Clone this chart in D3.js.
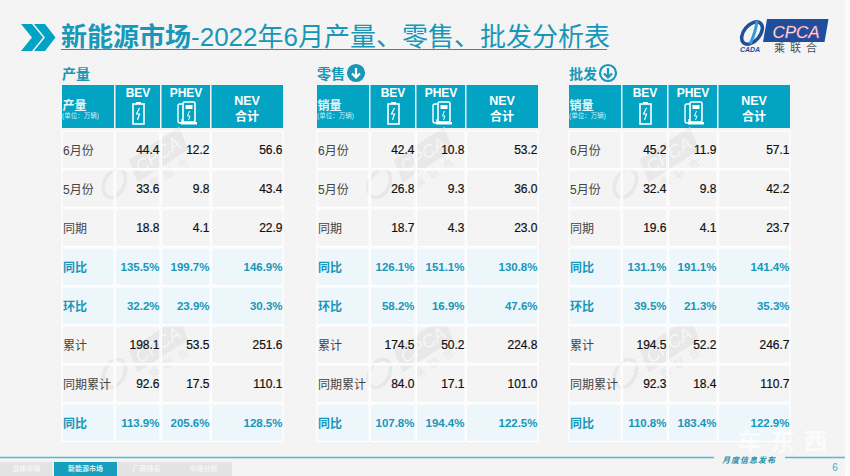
<!DOCTYPE html>
<html>
<head>
<meta charset="utf-8">
<script src="https://cdnjs.cloudflare.com/ajax/libs/d3/7.8.5/d3.min.js"></script>
<style>
  html, body { margin: 0; padding: 0; background: #f4f4f4; overflow: hidden; }
  svg { display: block; }
  text { font-family: "Liberation Sans", "Noto Sans CJK SC", sans-serif; }
</style>
</head>
<body>
<div id="chart"></div>
<script>
const title = '新能源市场';
const subtitle = '-2022年6月产量、零售、批发分析表';
const rowLabels = ['6月份', '5月份', '同期', '同比', '环比', '累计', '同期累计', '同比'];
const highlightRows = [3, 4, 7];
const colNames = ['BEV', 'PHEV', 'NEV'];
const panelTitles = ['产量', '零售', '批发'];
const panelHeads = ['产量', '销量', '销量'];
const navItems = ['总体市场', '新能源市场', '厂商排名', '市场分析'];

const prodBev = ['44.4', '33.6', '18.8', '135.5%', '32.2%', '198.1', '92.6', '113.9%'];
const prodPhev = ['12.2', '9.8', '4.1', '199.7%', '23.9%', '53.5', '17.5', '205.6%'];
const prodNev = ['56.6', '43.4', '22.9', '146.9%', '30.3%', '251.6', '110.1', '128.5%'];
const retailBev = ['42.4', '26.8', '18.7', '126.1%', '58.2%', '174.5', '84.0', '107.8%'];
const retailPhev = ['10.8', '9.3', '4.3', '151.1%', '16.9%', '50.2', '17.1', '194.4%'];
const retailNev = ['53.2', '36.0', '23.0', '130.8%', '47.6%', '224.8', '101.0', '122.5%'];
const wholesaleBev = ['45.2', '32.4', '19.6', '131.1%', '39.5%', '194.5', '92.3', '110.8%'];
const wholesalePhev = ['11.9', '9.8', '4.1', '191.1%', '21.3%', '52.2', '18.4', '183.4%'];
const wholesaleNev = ['57.1', '42.2', '23.7', '141.4%', '35.3%', '246.7', '110.7', '122.9%'];

const panelValues = [
  [prodBev, prodPhev, prodNev],
  [retailBev, retailPhev, retailNev],
  [wholesaleBev, wholesalePhev, wholesaleNev],
];

const teal = '#00a3c4';
const headFill = '#03a4c3';
const titleColor = '#1897b8';
const paleRow = '#edf6fb';

const svg = d3.select('#chart').append('svg')
  .attr('width', 850)
  .attr('height', 476);

// faint diagonal texture of the slide
const defs = svg.append('defs');
const pat = defs.append('pattern')
  .attr('id', 'bgTex')
  .attr('width', 4).attr('height', 4)
  .attr('patternUnits', 'userSpaceOnUse');
pat.append('rect').attr('width', 4).attr('height', 4).attr('fill', '#f5f5f5');
pat.append('path').attr('d', 'M0,4L4,0').attr('stroke', '#f0f0f0').attr('stroke-width', 1);
svg.append('rect').attr('width', 850).attr('height', 476).attr('fill', 'url(#bgTex)');
svg.append('rect').attr('x', 845).attr('width', 5).attr('height', 476).attr('fill', '#fbfbfb');

// title
svg.append('path')
  .attr('d', 'M21,24h11l11,13.5l-11,13.5h-11l11,-13.5zM34,24h11l10.5,13.5l-10.5,13.5h-11l11,-13.5z')
  .attr('fill', teal);
const titleText = svg.append('text')
  .attr('x', 61).attr('y', 46)
  .attr('font-size', 26)
  .attr('fill', titleColor);
titleText.append('tspan').attr('font-weight', 700).text(title);
titleText.append('tspan').text(subtitle);
svg.append('line')
  .attr('x1', 61).attr('x2', 607).attr('y1', 49.5).attr('y2', 49.5)
  .attr('stroke', titleColor).attr('stroke-width', 1);

// logo
const logo = svg.append('g');
logo.append('path')
  .attr('d', 'M767,19h61.5l-4,23h-61.5z')
  .attr('fill', '#1f4e9c');
logo.append('text')
  .attr('x', 796).attr('y', 38)
  .attr('text-anchor', 'middle')
  .attr('font-size', 17)
  .attr('font-style', 'italic')
  .attr('fill', '#fff')
  .attr('stroke', '#e0506a').attr('stroke-width', 0.4)
  .text('CPCA');
logo.append('text')
  .attr('x', 798).attr('y', 52)
  .attr('text-anchor', 'middle')
  .attr('font-size', 11)
  .attr('fill', '#4a5260')
  .attr('letter-spacing', 5)
  .text('乘联合');
logo.append('ellipse')
  .attr('cx', 752).attr('cy', 33).attr('rx', 8).attr('ry', 13)
  .attr('transform', 'rotate(40 752 33)')
  .attr('fill', 'none').attr('stroke', '#1f4e9c').attr('stroke-width', 3.5);
logo.append('path')
  .attr('d', 'M757,21c-1,8 -3,15 -7,23')
  .attr('fill', 'none').attr('stroke', '#2f9fd0').attr('stroke-width', 3);
logo.append('text')
  .attr('x', 750).attr('y', 52)
  .attr('text-anchor', 'middle')
  .attr('font-size', 7).attr('font-weight', 700).attr('font-style', 'italic')
  .attr('fill', '#1f4e9c')
  .text('CADA');

// tables
const rowY = d3.scaleBand()
  .domain(d3.range(rowLabels.length))
  .range([131, 443]);

const panelLeft = [62, 317, 569];
const colEdges = [0, 53, 99, 149, 222];
const markX = [96, 106, 100];
const markY = [155, 345];

function batteryIcon(g, cx) {
  g.append('rect').attr('x', cx - 5.5).attr('y', 104).attr('width', 11).attr('height', 20)
    .attr('fill', 'none').attr('stroke', '#fff').attr('stroke-width', 1.6);
  g.append('rect').attr('x', cx - 2.5).attr('y', 102).attr('width', 5).attr('height', 2).attr('fill', '#fff');
  g.append('path').attr('d', `M${cx + 1},108l-3,6h3l-2,6`)
    .attr('fill', 'none').attr('stroke', '#fff').attr('stroke-width', 1.2);
}

function pumpIcon(g, cx) {
  g.append('rect').attr('x', cx - 4).attr('y', 102).attr('width', 12).attr('height', 20).attr('rx', 1.5)
    .attr('fill', 'none').attr('stroke', '#fff').attr('stroke-width', 1.6);
  g.append('rect').attr('x', cx - 1.5).attr('y', 105).attr('width', 7).attr('height', 4).attr('fill', '#fff');
  g.append('rect').attr('x', cx - 6).attr('y', 122).attr('width', 16).attr('height', 2.5).attr('fill', '#fff');
  g.append('path').attr('d', `M${cx + 2.5},111l-2,5h2.5l-1.5,4`)
    .attr('fill', 'none').attr('stroke', '#fff').attr('stroke-width', 1);
  g.append('path').attr('d', `M${cx - 4},104h-3a2,2 0 0 0 -2,2v15a2,2 0 0 0 4,0v-2`)
    .attr('fill', 'none').attr('stroke', '#fff').attr('stroke-width', 1.4);
}

function watermark(g, cx, cy) {
  const wm = g.append('g').attr('transform', `translate(${cx},${cy}) rotate(-33)`);
  wm.append('path').attr('d', 'M-27,-12H33L28,12H-32Z').attr('fill', '#e8e8e8');
  wm.append('text')
    .attr('text-anchor', 'middle').attr('y', 6)
    .attr('font-size', 18).attr('font-style', 'italic').attr('fill', '#f6f6f6')
    .text('CPCA');
  wm.append('text')
    .attr('text-anchor', 'middle').attr('x', 2).attr('y', 25)
    .attr('font-size', 11).attr('letter-spacing', 6).attr('fill', '#e8e8e8')
    .text('乘联合');
  wm.append('ellipse')
    .attr('cx', -52).attr('cy', 0).attr('rx', 10).attr('ry', 15)
    .attr('transform', 'rotate(60 -52 0)')
    .attr('fill', 'none').attr('stroke', '#e8e8e8').attr('stroke-width', 3.5);
}

panelTitles.forEach((name, p) => {
  const left = panelLeft[p];
  const panel = svg.append('g').attr('transform', `translate(${left},0)`);
  const x = d3.scaleOrdinal().domain(d3.range(colEdges.length)).range(colEdges);

  panel.append('text')
    .attr('x', 0).attr('y', 79)
    .attr('font-size', 14).attr('font-weight', 700)
    .attr('fill', titleColor)
    .text(name);

  if (p > 0) {
    const solid = p === 1;
    const arrow = panel.append('g').attr('transform', 'translate(39,73)');
    arrow.append('circle').attr('r', 8)
      .attr('fill', solid ? titleColor : 'none')
      .attr('stroke', titleColor).attr('stroke-width', 2.2);
    arrow.append('path').attr('d', 'M0,-5V4M-4,0.5L0,4.5L4,0.5')
      .attr('fill', 'none')
      .attr('stroke', solid ? '#fff' : titleColor)
      .attr('stroke-width', 2.2);
  }

  // header cells
  panel.selectAll('.head')
    .data(d3.range(4))
    .enter().append('rect')
    .attr('class', 'head')
    .attr('x', (d) => x(d) + (d ? 0.5 : 0))
    .attr('y', 85)
    .attr('width', (d) => x(d + 1) - x(d) - (d ? 1.5 : 1))
    .attr('height', 43)
    .attr('fill', headFill);

  panel.append('text')
    .attr('x', 0.5).attr('y', 110)
    .attr('font-size', 12).attr('font-weight', 700).attr('fill', '#e4f6fa')
    .text(panelHeads[p]);
  panel.append('text')
    .attr('x', 0).attr('y', 118)
    .attr('font-size', 6.5).attr('fill', '#cdeef4')
    .text('(单位：万辆)');

  const headText = (t, cx, y, size) => panel.append('text')
    .attr('x', cx).attr('y', y)
    .attr('text-anchor', 'middle')
    .attr('font-family', '"Open Sans", "Noto Sans CJK SC", sans-serif')
    .attr('font-size', size).attr('font-weight', 700).attr('fill', '#fff')
    .text(t);
  headText(colNames[0], 76, 97, 12);
  headText(colNames[1], 124, 97, 12);
  headText(colNames[2], 185, 105, 12.5);
  headText('合计', 185, 121, 12);
  batteryIcon(panel, 76.5);
  pumpIcon(panel, 125);

  // watermarks sit under the pale rows
  markY.forEach((my) => watermark(panel, markX[p], my));

  // row cells
  rowLabels.forEach((label, r) => {
    const hl = highlightRows.includes(r);
    panel.selectAll(null)
      .data(d3.range(4))
      .enter().append('rect')
      .attr('x', (d) => x(d) + (d ? 0.5 : 0))
      .attr('y', rowY(r))
      .attr('width', (d) => x(d + 1) - x(d) - (d ? 1.5 : 1))
      .attr('height', rowY.bandwidth() - 1.5)
      .attr('fill', hl ? paleRow : 'none')
      .attr('stroke', '#fff')
      .attr('stroke-width', 1.2);

    panel.append('text')
      .attr('x', 1)
      .attr('y', rowY(r) + 23.5)
      .attr('font-size', 12)
      .attr('font-weight', hl ? 700 : 400)
      .attr('fill', hl ? titleColor : '#444')
      .text(label);

    panelValues[p].forEach((vals, c) => {
      panel.append('text')
        .attr('x', x(c + 2) - 1.5)
        .attr('y', rowY(r) + 23)
        .attr('text-anchor', 'end')
        .attr('font-size', hl ? 11.5 : 12)
        .attr('font-weight', hl ? 700 : 400)
        .attr('fill', hl ? titleColor : '#111')
        .attr('stroke', hl ? 'none' : '#111')
        .attr('stroke-width', hl ? 0 : 0.2)
        .text(vals[r]);
    });
  });
});

// footer
svg.append('line')
  .attr('x1', 0).attr('x2', 714).attr('y1', 457.5).attr('y2', 457.5)
  .attr('stroke', '#4dbdd8').attr('stroke-width', 1.6);
svg.append('line')
  .attr('x1', 785).attr('x2', 845).attr('y1', 457.5).attr('y2', 457.5)
  .attr('stroke', '#4dbdd8').attr('stroke-width', 1.6);

const navX = d3.scaleOrdinal().domain(d3.range(4)).range([0, 54, 118, 175]);
const navW = [52.5, 63, 57, 57];
svg.selectAll('.nav')
  .data(navItems)
  .enter().append('rect')
  .attr('class', 'nav')
  .attr('x', (d, i) => navX(i))
  .attr('y', 462)
  .attr('width', (d, i) => navW[i])
  .attr('height', 14)
  .attr('fill', (d, i) => (i === 1 ? '#159ebd' : '#e3e3e3'));
svg.selectAll('.navText')
  .data(navItems)
  .enter().append('text')
  .attr('x', (d, i) => navX(i) + navW[i] / 2)
  .attr('y', 471)
  .attr('text-anchor', 'middle')
  .attr('font-size', 7)
  .attr('font-weight', 700)
  .attr('fill', (d, i) => (i === 1 ? '#d8f2f7' : '#f6f6f6'))
  .text((d) => d);

// site watermark, kept above the footer line text
svg.append('text')
  .attr('x', 787).attr('y', 450)
  .attr('text-anchor', 'middle')
  .attr('font-size', 24).attr('font-weight', 700)
  .attr('letter-spacing', 9)
  .attr('fill', '#fff').attr('fill-opacity', 0.7)
  .text('车东西');

svg.append('text')
  .attr('x', 749).attr('y', 463)
  .attr('text-anchor', 'middle')
  .attr('font-size', 8).attr('font-style', 'italic').attr('font-weight', 700)
  .attr('letter-spacing', 1)
  .attr('fill', '#1f8fae')
  .text('月度信息发布');
svg.append('text')
  .attr('x', 835).attr('y', 471)
  .attr('text-anchor', 'middle')
  .attr('font-size', 10)
  .attr('fill', '#4aa9c6')
  .text('6');
</script>
</body>
</html>
